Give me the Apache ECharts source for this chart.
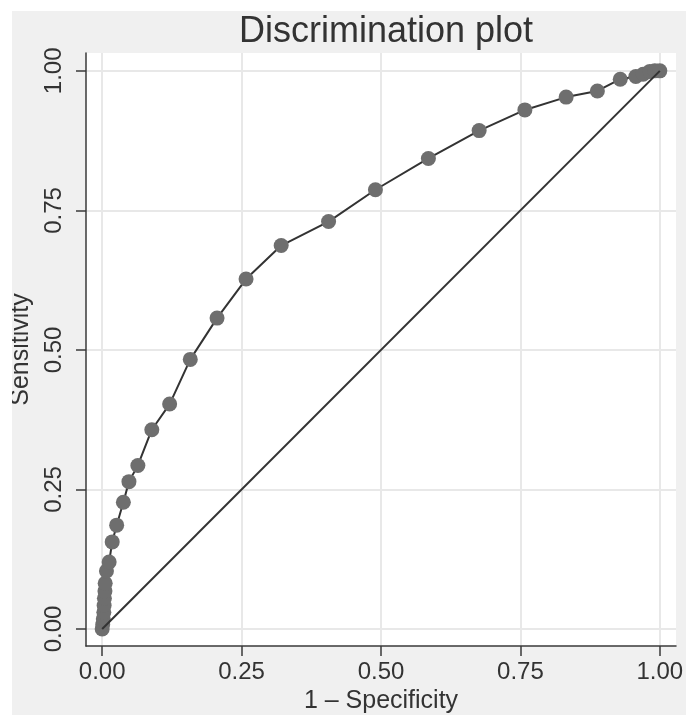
<!DOCTYPE html>
<html>
	<head>
		<meta charset="utf-8">
		<title></title>
		<script src="https://cdn.jsdelivr.net/npm/echarts@6/dist/echarts.min.js"></script>
	</head>
	<body style="margin: 0; overflow: hidden; background: #fff;">
		<div id="main" style="position: absolute; left: 12px; top: 11px; width: 674px; height: 704px; background: #f0f0f0;"></div>
		<script type="text/javascript">
			// 1 - specificity / sensitivity
			var fpr = [0, 0.001, 0.002, 0.003, 0.0035, 0.004, 0.005, 0.0054, 0.0077, 0.0125,
				0.018, 0.026, 0.038, 0.048, 0.064, 0.089, 0.121, 0.158, 0.206, 0.258,
				0.321, 0.406, 0.490, 0.585, 0.676, 0.758, 0.832, 0.888, 0.929, 0.957,
				0.970, 0.982, 0.991, 1];
			var sens = [0, 0.008, 0.018, 0.030, 0.042, 0.055, 0.068, 0.082, 0.104, 0.120,
				0.156, 0.186, 0.227, 0.264, 0.293, 0.357, 0.403, 0.483, 0.557, 0.627,
				0.687, 0.730, 0.787, 0.843, 0.893, 0.930, 0.953, 0.964, 0.985, 0.990,
				0.994, 0.999, 1.0, 1];
			var refX = [0, 1];
			var refY = [0, 1];
			var ticks = [0, 0.25, 0.5, 0.75, 1];

			var rocData = fpr.map(function (v, i) { return [v, sens[i]]; });
			var refData = refX.map(function (v, i) { return [v, refY[i]]; });

			var font = 'Liberation Sans, Arial, sans-serif';
			var myChart = echarts.init(document.getElementById('main'));

			var axisCommon = {
				type: 'value',
				axisLine: { show: true, onZero: false, lineStyle: { color: '#3a3a3a', width: 1.5 } },
				axisTick: { show: true, length: 10, customValues: ticks, lineStyle: { color: '#3a3a3a', width: 1.5 } },
				splitLine: { show: true, lineStyle: { color: '#e8e8e8', width: 2 } },
				nameLocation: 'middle',
				nameTextStyle: { fontFamily: font, fontSize: 25, color: '#333' }
			};

			var option = {
				animation: false,
				title: {
					text: 'Discrimination plot',
					left: 369,
					top: -2,
					textAlign: 'center',
					textStyle: { fontFamily: font, fontSize: 36, fontWeight: 'normal', color: '#333' }
				},
				grid: {
					left: 74,
					top: 42,
					right: 10,
					bottom: 69,
					outerBoundsMode: 'none',
					containLabel: false,
					show: true,
					backgroundColor: '#fff',
					borderWidth: 0
				},
				xAxis: echarts.util.merge({
					min: -0.029,
					max: 1.029,
					name: '1 \u2013 Specificity',
					nameGap: 42,
					axisLabel: {
						customValues: ticks,
						margin: 14,
						fontFamily: font, fontSize: 24, color: '#333',
						formatter: function (v) { return v.toFixed(2); }
					}
				}, axisCommon, true),
				yAxis: echarts.util.merge({
					min: -0.0305,
					max: 1.032,
					name: 'Sensitivity',
					nameGap: 47,
					axisLabel: {
						customValues: ticks,
						rotate: 90,
						margin: 20,
						fontFamily: font, fontSize: 24, color: '#333',
						formatter: function (v) { return v.toFixed(2); }
					}
				}, axisCommon, true),
				series: [
					{
						name: 'ROC',
						type: 'line',
						data: rocData,
						symbol: 'circle',
						symbolSize: 15,
						itemStyle: { color: '#6e6e6e' },
						lineStyle: { color: '#333', width: 2 },
						z: 2
					},
					{
						name: 'Reference',
						type: 'line',
						data: refData,
						symbol: 'none',
						lineStyle: { color: '#333', width: 2 },
						z: 3
					}
				]
			};
			myChart.setOption(option);
		</script>
	</body>
</html>
